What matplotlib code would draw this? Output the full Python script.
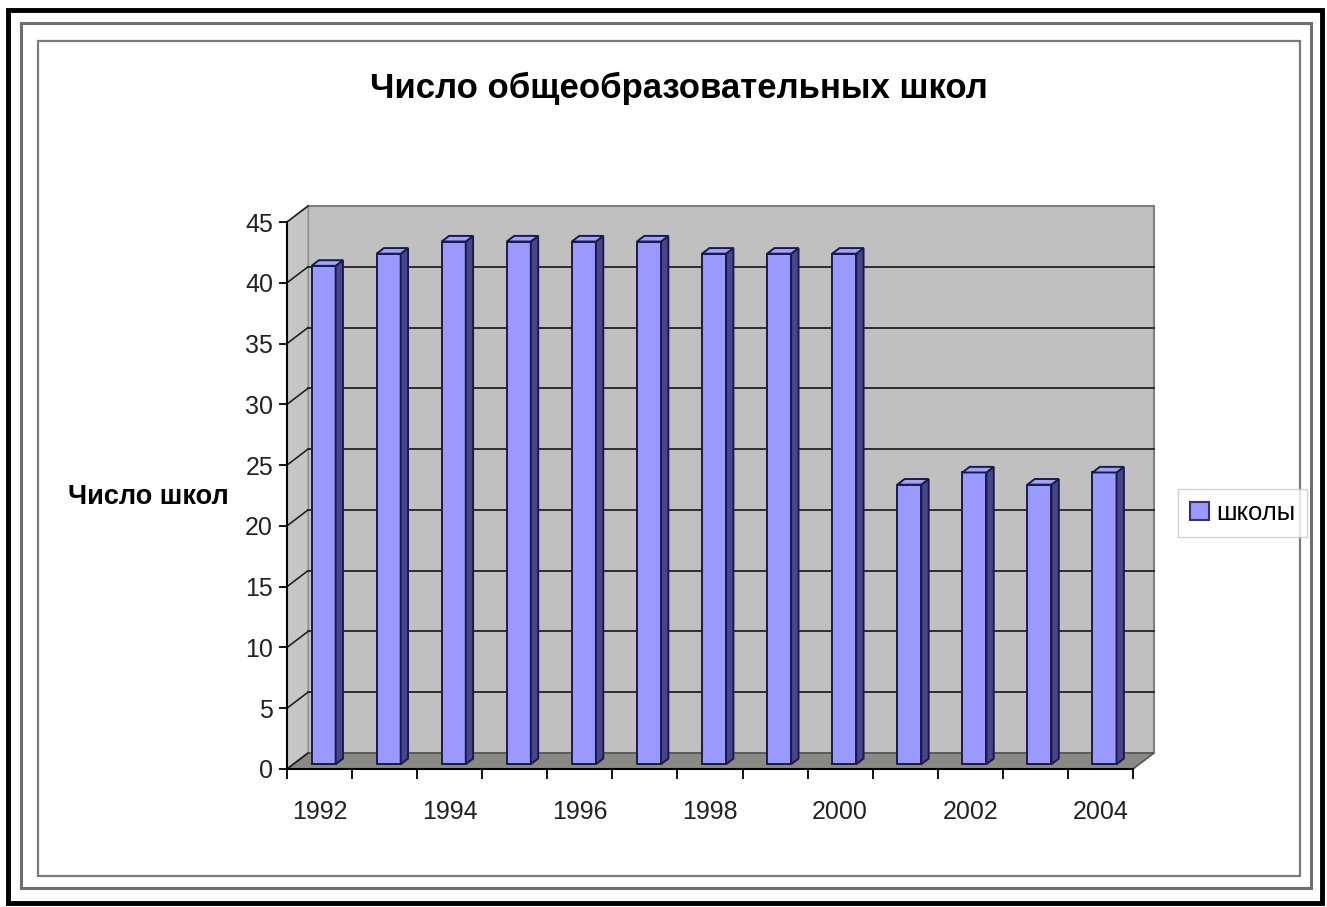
import matplotlib.pyplot as plt
from matplotlib.patches import Polygon, Rectangle, Patch

plt.rcParams['font.family'] = ['Liberation Sans', 'DejaVu Sans']

# данные: число общеобразовательных школ по годам
years = [1992, 1993, 1994, 1995, 1996, 1997, 1998, 1999, 2000, 2001, 2002, 2003, 2004]
schools = [41, 42, 43, 43, 43, 43, 42, 42, 42, 23, 24, 23, 24]
label_years = years[::2]
y_ticks = list(range(0, 46, 5))
series_name = 'школы'

W, H = 1327, 907
fig = plt.figure(figsize=(W / 100, H / 100), dpi=100)

# рамки вокруг диаграммы
fig.patches.append(Rectangle((8 / W, 1 - 903 / H), 1314 / W, 893 / H, transform=fig.transFigure,
                             fill=False, edgecolor='black', lw=3.5))
fig.patches.append(Rectangle((21 / W, 1 - 888 / H), 1290 / W, 865 / H, transform=fig.transFigure,
                             fill=False, edgecolor='#6e6e6e', lw=2.2))
fig.patches.append(Rectangle((38 / W, 1 - 876 / H), 1262 / W, 835 / H, transform=fig.transFigure,
                             fill=False, edgecolor='#7a7a7a', lw=1.6))

ax = fig.add_axes([287 / W, 1 - 769 / H, (1133 - 287) / W, (769 - 222) / H])
n = len(years)
ax.set_xlim(0, n)
ax.set_ylim(0, 45)
ax.patch.set_visible(False)

# глубина "3D" стенок в единицах данных
DX, DY = 0.323, 1.316

# задняя стенка, боковая стенка, пол
ax.add_patch(Polygon([(DX, DY), (n + DX, DY), (n + DX, 45 + DY), (DX, 45 + DY)],
                     closed=True, facecolor='#c0c0c0', edgecolor='#808080', lw=1.5,
                     clip_on=False, zorder=0))
ax.add_patch(Polygon([(0, 0), (DX, DY), (DX, 45 + DY), (0, 45)],
                     closed=True, facecolor='#c6c6c6', edgecolor='#999999', lw=1,
                     clip_on=False, zorder=0))
ax.add_patch(Polygon([(0, 0), (n, 0), (n + DX, DY), (DX, DY)],
                     closed=True, facecolor='#8a8a84', edgecolor='#555555', lw=1.2,
                     clip_on=False, zorder=0.5))

# линии сетки
for v in y_ticks:
    ax.plot([0, DX], [v, v + DY], color='#222222', lw=1.2, clip_on=False, zorder=1)
    if 0 < v < 45:
        ax.plot([DX, n + DX], [v + DY, v + DY], color='#222222', lw=1.3, clip_on=False, zorder=1)

# столбцы
bw, off = 0.37, 0.28
f0, f1 = 0.3, 0.65
for i, v in enumerate(schools):
    x0 = i + off + f0 * DX
    x1 = x0 + bw
    y0 = f0 * DY
    sx, sy = (f1 - f0) * DX, (f1 - f0) * DY
    ec = '#1a1a4d'
    ax.add_patch(Polygon([(x0, y0), (x1, y0), (x1, v + y0), (x0, v + y0)], closed=True,
                         facecolor='#9999ff', edgecolor=ec, lw=1.4, clip_on=False, zorder=3))
    ax.add_patch(Polygon([(x1, y0), (x1 + sx, y0 + sy), (x1 + sx, v + y0 + sy), (x1, v + y0)],
                         closed=True, facecolor='#464688', edgecolor=ec, lw=1.4,
                         clip_on=False, zorder=3))
    ax.add_patch(Polygon([(x0, v + y0), (x1, v + y0), (x1 + sx, v + y0 + sy), (x0 + sx, v + y0 + sy)],
                         closed=True, facecolor='#a3a3ff', edgecolor=ec, lw=1.4,
                         clip_on=False, zorder=3))

# оси
for s in ['top', 'right']:
    ax.spines[s].set_visible(False)
for s in ['left', 'bottom']:
    ax.spines[s].set_linewidth(1.5)
    ax.spines[s].set_zorder(4)
ax.set_yticks(y_ticks)
ax.tick_params(axis='y', length=6, width=1.3, pad=4, labelsize=18, labelcolor='#222222')
ax.set_xticks([years.index(y) + 0.5 for y in label_years])
ax.set_xticklabels([str(y) for y in label_years])
ax.set_xticks(range(n + 1), minor=True)
ax.tick_params(axis='x', which='major', length=0, pad=22, labelsize=18, labelcolor='#222222')
ax.tick_params(axis='x', which='minor', length=7, width=1.3)

fig.text(679 / W, 1 - 88 / H, 'Число общеобразовательных школ', ha='center', va='center',
         fontsize=25, fontweight='bold')
fig.text(68 / W, 1 - 497 / H, 'Число школ', ha='left', va='center',
         fontsize=19.5, fontweight='bold')

leg = fig.legend(handles=[Patch(facecolor='#9999ff', edgecolor='#333366', lw=1.5)],
                 labels=[series_name], loc='center left',
                 bbox_to_anchor=(1178 / W, 1 - 513 / H), fontsize=18.5,
                 frameon=True, fancybox=False, edgecolor='#c8c8c8',
                 handlelength=0.75, handleheight=0.75, handletextpad=0.3,
                 borderpad=0.45, borderaxespad=0)
leg.get_frame().set_linewidth(1)

fig.savefig('out.png', dpi=100)
